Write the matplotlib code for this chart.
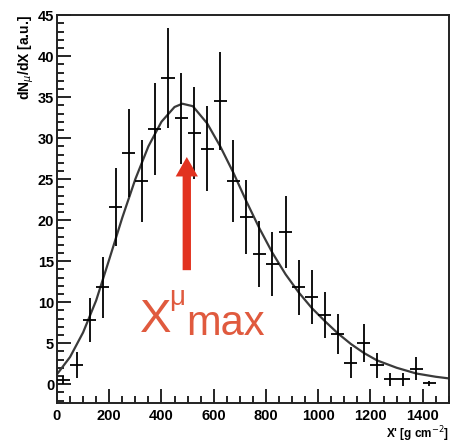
import numpy as np
import matplotlib.pyplot as plt

# ----------------------------
# data (bins of 50 g/cm^2)
# ----------------------------
x_pts = [25, 75, 125, 175, 225, 275, 325, 375, 425, 475, 525, 575, 625, 675, 725,
         775, 825, 875, 925, 975, 1025, 1075, 1125, 1175, 1225, 1275, 1325, 1375, 1425]
y_pts = [0.5, 2.3, 7.8, 11.8, 21.6, 28.2, 24.8, 31.1, 37.3, 32.4, 30.6, 28.7, 34.5, 24.8, 20.4,
         15.9, 14.7, 18.6, 11.8, 10.6, 8.4, 6.1, 2.6, 5.0, 2.3, 0.6, 0.6, 1.9, 0.1]
y_err = [0.5, 1.6, 2.7, 3.7, 4.8, 5.4, 5.0, 5.6, 6.1, 5.6, 5.6, 5.2, 6.0, 5.0, 4.5,
         4.0, 3.9, 4.4, 3.4, 3.3, 2.8, 2.4, 1.9, 2.3, 1.5, 0.8, 0.8, 1.4, 0.3]
x_half = 25

# fitted curve
fit_x = [0, 50, 100, 150, 200, 250, 300, 350, 400, 450, 480, 520, 575, 625, 675, 725,
         775, 825, 875, 925, 975, 1025, 1075, 1125, 1175, 1225, 1300, 1375, 1450, 1500]
fit_y = [1.2, 3.3, 6.3, 10.2, 15.2, 20.3, 25.0, 29.0, 32.0, 33.8, 34.2, 33.9, 31.8, 29.0, 25.8, 22.3,
         19.0, 16.0, 13.4, 11.2, 9.3, 7.7, 6.2, 4.9, 3.8, 2.9, 2.0, 1.3, 0.9, 0.7]

# arrow marking X_max
arrow_x = 497
arrow_tail, arrow_tip = 13.9, 27.7

plt.rcParams['font.family'] = ['Liberation Sans', 'DejaVu Sans']

fig = plt.figure(figsize=(4.52, 4.46), dpi=100)
ax = fig.add_axes([0.126, 0.0964, 0.867, 0.8696])

ax.plot(fit_x, fit_y, color="#3a3a3a", lw=1.6, zorder=2)
ax.errorbar(x_pts, y_pts, xerr=x_half, yerr=y_err, fmt="none",
            ecolor="black", elinewidth=1.3, capsize=0, zorder=3)

ax.annotate("", xy=(arrow_x, arrow_tip), xytext=(arrow_x, arrow_tail),
            arrowprops=dict(arrowstyle="simple,head_width=1.6,head_length=1.4,tail_width=0.6",
                            color="#e2321f", lw=0, shrinkA=0, shrinkB=0), zorder=4)

red_txt = "#e05a3e"
ax.text(318, 6.4, "X", color=red_txt, fontsize=34, ha="left", va="baseline")
ax.text(428, 9.6, "\u03bc", color=red_txt, fontsize=20, ha="left", va="baseline")
ax.text(495, 6.0, "max", color=red_txt, fontsize=30, ha="left", va="baseline")

ax.set_xlim(0, 1500)
ax.set_ylim(-2.3, 45)
ax.set_xticks(np.arange(0, 1401, 200))
ax.set_xticks(np.arange(0, 1501, 50), minor=True)
ax.set_yticks(np.arange(0, 46, 5))
ax.set_yticks(np.arange(-2, 46, 1), minor=True)

ax.tick_params(which="both", direction="in", top=False, right=False, width=1.2, colors="black")
ax.tick_params(which="major", length=10)
ax.tick_params(which="minor", length=5)
ax.tick_params(axis="y", pad=2)
ax.tick_params(axis="x", pad=4)
for lab in ax.get_xticklabels() + ax.get_yticklabels():
    lab.set_fontsize(10.5)
    lab.set_fontweight("bold")

for s in ax.spines.values():
    s.set_linewidth(1.4)
    s.set_color("#222222")

ax.set_ylabel(r"dN$_\mu$/dX [a.u.]", fontsize=10, fontweight="bold", loc="top", labelpad=1)
ax.set_xlabel(r"X' [g cm$^{-2}$]", fontsize=8.5, fontweight="bold", loc="right", labelpad=1)

fig.savefig("out.png", dpi=100)
